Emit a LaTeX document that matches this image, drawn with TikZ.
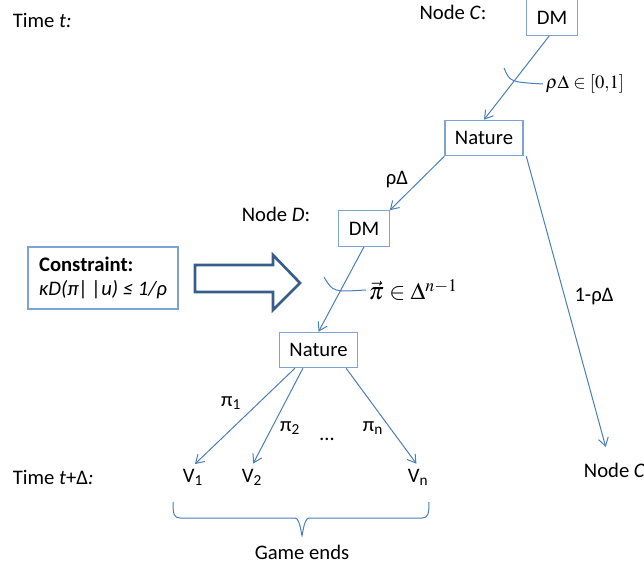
\documentclass[tikz,border=0pt]{standalone}
\usepackage{mathptmx}
\usepackage[no-math]{fontspec}
\setmainfont{Carlito}
\usetikzlibrary{arrows.meta,positioning,calc}
\definecolor{ink}{HTML}{4A7EBB}
\definecolor{rim}{HTML}{7DA2D4}
\definecolor{push}{HTML}{385D8A}
\newcommand{\txt}{\fontsize{15.5pt}{18pt}\selectfont}
\tikzset{box/.style={draw=rim,line width=0.9pt,font=\txt,inner xsep=7.5pt,inner ysep=0pt,minimum height=26.5pt}, lbl/.style={font=\txt,inner sep=2pt}, arr/.style={-{Straight Barb[length=6pt,width=7.5pt]},draw=ink,line width=0.75pt}, arcmark/.style={draw=ink,line width=0.75pt}, bigarrow/.style={draw=push,line width=2pt,fill=white,line join=miter}}

\begin{document}
\begin{tikzpicture}[x=0.75pt,y=-0.75pt]
\useasboundingbox (0,0) rectangle (644,565);
\node[box] (dmC) at (552,17.5){DM};
\node[box] (natC) at (484,138){Nature};
\node[box] (dmD) at (364,228.5){DM};
\node[box] (natD) at (318.5,350){Nature};
\node[lbl,anchor=west] (timeT) at (10,20){Time \textit{t:}};
\node[lbl] (nodeC) at (453,12){Node \textit{C}:};
\node[lbl] (nodeD) at (276,214){Node \textit{D}:};
\node[lbl,anchor=west] (nodeCC) at (581,470){Node \textit{C}};
\node[lbl,anchor=west] (timeTD) at (10,477){Time \textit{t}+Δ\textit{:}};
\node[lbl] (v1) at (193,477){V\textsubscript{1}};
\node[lbl] (v2) at (252,477){V\textsubscript{2}};
\node[lbl] (vn) at (418,477){V\textsubscript{n}};
\node[box,align=left,inner xsep=7pt,minimum width=112.5pt,minimum height=46.5pt] (cons) at (103,278){\textbf{Constraint:}\\\textit{κD(π|\,|u) ≤ 1/ρ}};
\node[lbl,font=\fontsize{14pt}{16pt}\selectfont,anchor=west] (rho) at (543,84){$\rho\Delta\in[0{,}1]$};
\node[lbl,font=\fontsize{18pt}{20pt}\selectfont,anchor=west] (simplex) at (366,290){$\vec{\pi}\in\Delta^{n-1}$};
\node[lbl] (p1) at (231,403){π\textsubscript{1}};
\node[lbl] (p2) at (290,428){π\textsubscript{2}};
\node[lbl,anchor=base] (dots) at (327,440){…};
\node[lbl] (pn) at (373,428){π\textsubscript{n}};
\node[lbl] (rd) at (397,180){ρΔ};
\node[lbl] (ord) at (594,297){1-ρΔ};
\draw[arr] ([xshift=-2pt]dmC.south) -- (natC.north);
\draw[arr] (natC.south west) -- (dmD.north east);
\draw[arr,shorten >=10pt] ([xshift=2pt]natC.south east) -- ([xshift=-4pt]nodeCC.north);
\draw[arr] (dmD.south) -- (natD.north);
\draw[arr,shorten >=2pt] ([xshift=12pt]natD.south west) -- (v1.north);
\draw[arr,shorten >=2pt] ([xshift=18pt]natD.south west) -- (v2.north);
\draw[arr,shorten >=2pt] ([xshift=-9pt]natD.south east) -- (vn.north);
\draw[arcmark] (rho.west) .. controls (510,82) .. (504,68);
\draw[arcmark] (simplex.west) .. controls (333,292) .. (324,277);
\draw[bigarrow] (195,265) -- (273,265) -- (273,255) -- (300,283) -- (273,310) -- (273,292) -- (195,292) -- cycle;
% brace under the leaves
\coordinate (bl) at (173,502);
\coordinate (bm) at (302,533);
\coordinate (br) at (429,502);
\draw[arcmark] (bl) .. controls +(0,12) and +(-6,0) .. ++(7,16) -- ($(bm)+(-7,-15)$) .. controls +(6,0) and +(0,10) .. (bm) .. controls +(0,10) and +(-6,0) .. ($(bm)+(7,-15)$) -- ($(br)+(-7,16)$) .. controls +(6,0) and +(0,12) .. (br);
\node[lbl] (ends) at (302,552){Game ends};
\end{tikzpicture}
\end{document}
